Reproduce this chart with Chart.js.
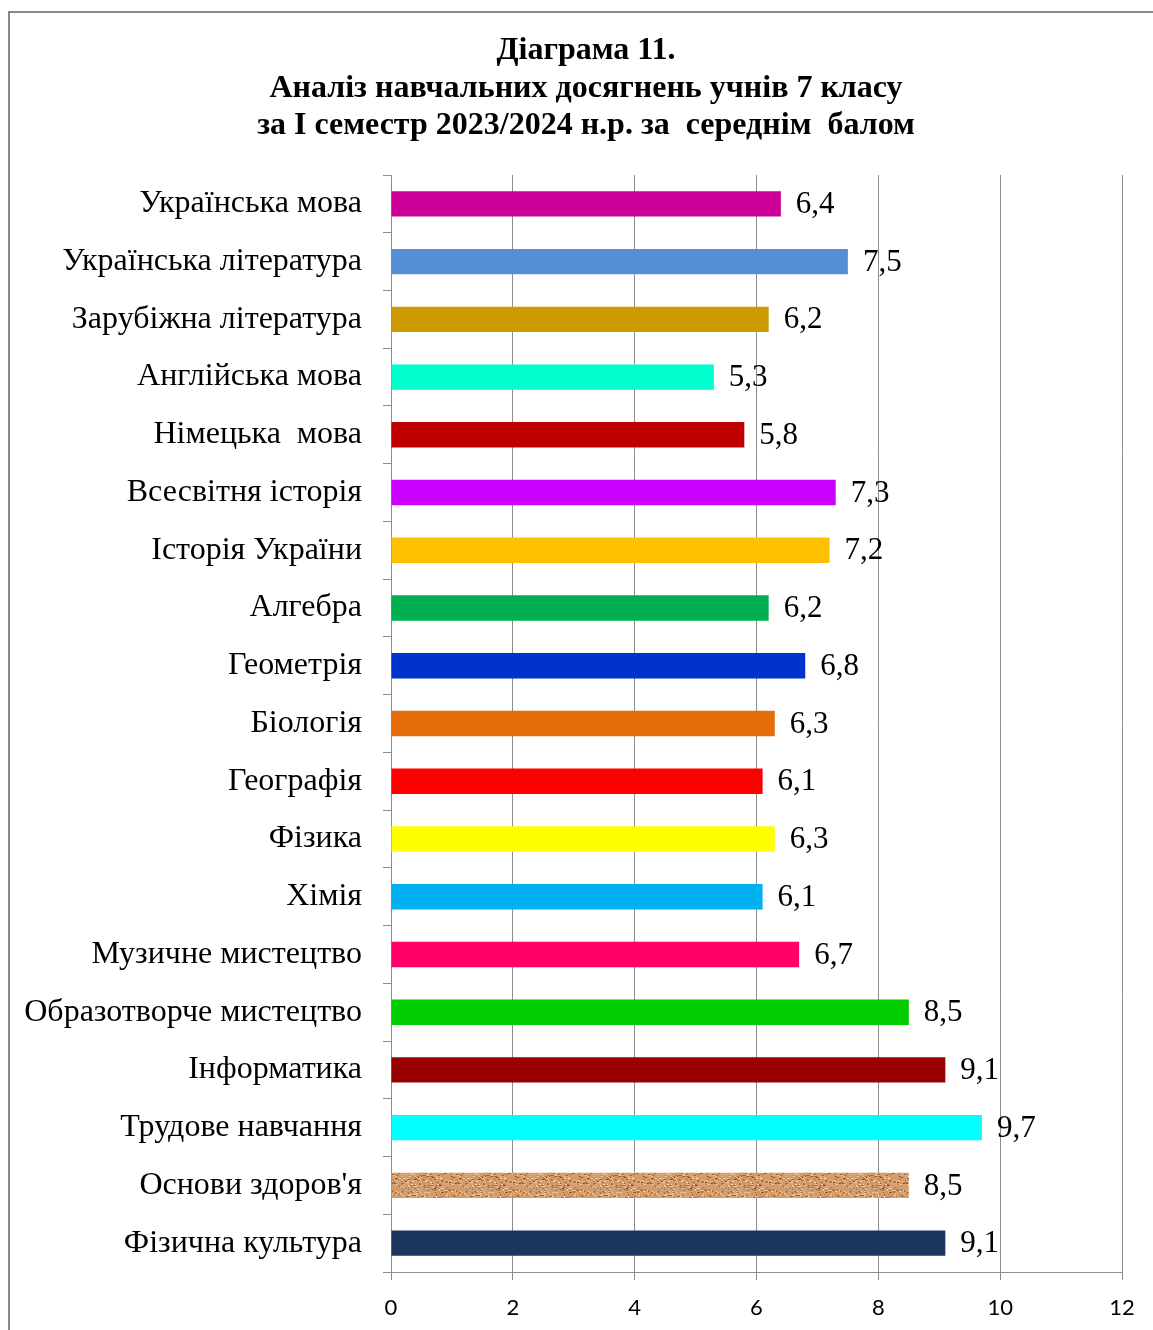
<!DOCTYPE html>
<html>
<head>
<meta charset="utf-8">
<script src="https://cdn.jsdelivr.net/npm/chart.js@4"></script>
<style>
  body { margin: 0; background: #fff; overflow: hidden; }
  canvas { display: block; }
</style>
</head>
<body>
<canvas id="chart" width="1153" height="1330"></canvas>
<script>
const subjects = [
    "Українська мова", "Українська література", "Зарубіжна література",
    "Англійська мова", "Німецька  мова", "Всесвітня історія", "Історія України",
    "Алгебра", "Геометрія", "Біологія", "Географія", "Фізика", "Хімія",
    "Музичне мистецтво", "Образотворче мистецтво", "Інформатика",
    "Трудове навчання", "Основи здоров'я", "Фізична культура"
];
const averageScores = [6.4, 7.5, 6.2, 5.3, 5.8, 7.3, 7.2, 6.2, 6.8, 6.3, 6.1, 6.3, 6.1, 6.7, 8.5, 9.1, 9.7, 8.5, 9.1];
const xTicks = [0, 2, 4, 6, 8, 10, 12];
const titleLines = [
    "Діаграма 11.",
    "Аналіз навчальних досягнень учнів 7 класу",
    "за І семестр 2023/2024 н.р. за  середнім  балом"
];

// cork-like texture for "Основи здоров'я"
function corkPattern() {
    const c = document.createElement("canvas");
    c.width = 64; c.height = 26;
    const g = c.getContext("2d");
    g.fillStyle = "#d39d6c";
    g.fillRect(0, 0, c.width, c.height);
    const tones = ["#a8693c", "#e8bf95", "#8f5630", "#c68a58", "#f0cfa8"];
    for (let i = 0; i < 420; i++) {
        const h = Math.abs(Math.sin(i * 12.9898) * 43758.5453) % 1;
        const k = Math.abs(Math.sin(i * 78.233) * 12345.678) % 1;
        g.fillStyle = tones[i % tones.length];
        g.fillRect(Math.floor(h * c.width), Math.floor(k * c.height), 1 + (i % 2), 1);
    }
    return g.createPattern(c, "repeat");
}

const barColors = [
    "#cc0099", "#558ed5", "#cc9900", "#00ffcc", "#c00000", "#cc00ff", "#ffc000",
    "#00b050", "#0033cc", "#e46c0a", "#ff0000", "#ffff00", "#00b0f0", "#ff0066",
    "#00cc00", "#990000", "#00ffff", corkPattern(), "#1b365d"
];

// outer frame + title (title is off-centre relative to the canvas, so drawn here)
const frame = {
    id: "frame",
    beforeDraw(chart) {
        const ctx = chart.ctx;
        ctx.save();
        ctx.fillStyle = "#fff";
        ctx.fillRect(0, 0, chart.width, chart.height);
        ctx.strokeStyle = "#888";
        ctx.lineWidth = 2;
        ctx.strokeRect(9, 12, 3000, 3000);
        ctx.font = "bold 32px 'Liberation Serif'";
        ctx.fillStyle = "#000";
        ctx.textAlign = "center";
        ctx.textBaseline = "middle";
        titleLines.forEach((line, i) => ctx.fillText(line, 586, 51 + i * 37.5));
        ctx.restore();
    }
};

const valueLabels = {
    id: "valueLabels",
    afterDatasetsDraw(chart) {
        const ctx = chart.ctx;
        const meta = chart.getDatasetMeta(0);
        ctx.save();
        ctx.font = "31px 'Liberation Serif'";
        ctx.fillStyle = "#000";
        ctx.textBaseline = "middle";
        ctx.textAlign = "left";
        meta.data.forEach((bar, i) => {
            ctx.fillText(String(averageScores[i]).replace(".", ","), bar.x + 15, bar.y + 1);
        });
        ctx.restore();
    }
};

new Chart(document.getElementById("chart").getContext("2d"), {
    type: "bar",
    data: {
        labels: subjects,
        datasets: [{
            data: averageScores,
            backgroundColor: barColors,
            categoryPercentage: 1,
            barPercentage: 0.44
        }]
    },
    options: {
        indexAxis: "y",
        responsive: false,
        animation: false,
        layout: { padding: { top: 175, right: 31, bottom: 0, left: 0 } },
        plugins: {
            legend: { display: false },
            tooltip: { enabled: false },
            title: { display: false }
        },
        scales: {
            x: {
                min: 0,
                max: 12,
                afterBuildTicks: s => { s.ticks = xTicks.map(v => ({ value: v })); },
                afterFit: s => { s.height = 58; },
                grid: { color: "#8c8c8c", lineWidth: 1, tickLength: 8 },
                border: { color: "#8c8c8c", width: 1 },
                ticks: {
                    color: "#000",
                    padding: 15,
                    font: { family: "Lato", size: 22 }
                }
            },
            y: {
                afterFit: s => { s.width = 391; },
                grid: { drawOnChartArea: false, color: "#8c8c8c", tickLength: 8 },
                border: { color: "#8c8c8c", width: 1 },
                ticks: {
                    color: "#000",
                    padding: 21,
                    autoSkip: false,
                    font: { family: "'Liberation Serif'", size: 32 }
                }
            }
        }
    },
    plugins: [frame, valueLabels]
});
</script>
</body>
</html>
